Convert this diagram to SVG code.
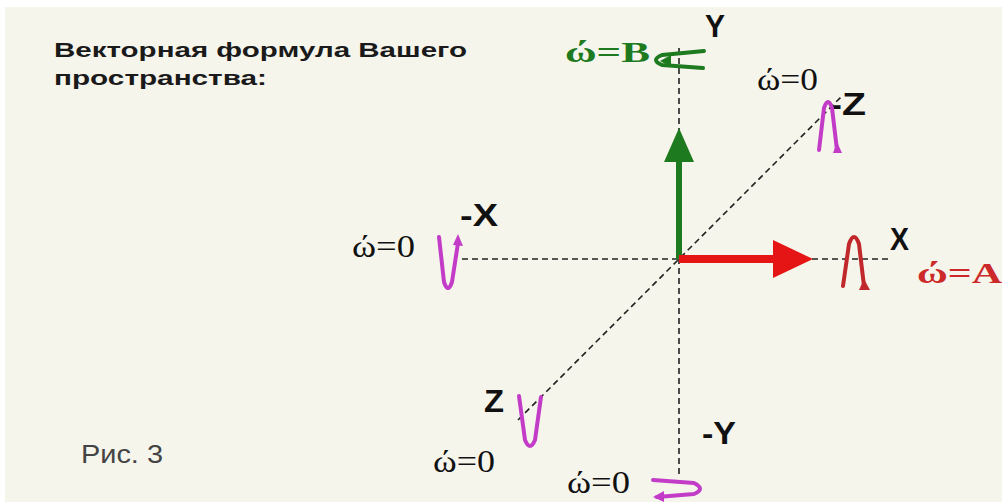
<svg xmlns="http://www.w3.org/2000/svg" width="1002" height="502" viewBox="0 0 1002 502">
<defs>
<style>
.ax{stroke:#222;stroke-width:1.6;stroke-dasharray:6 4;fill:none}
.lbl{font-family:"Liberation Sans",Arial,sans-serif;font-weight:bold;font-size:31px;fill:#111}
.om{font-family:"Liberation Serif","Times New Roman",serif;font-size:31px;fill:#111}
.omc{font-family:"Liberation Serif","Times New Roman",serif;font-size:29px;font-weight:bold}
.title{font-family:"Liberation Sans",Arial,sans-serif;font-weight:bold;font-size:21px;fill:#1a1a1a}
.rot{fill:none;stroke-width:4;stroke-linecap:round;stroke-linejoin:round}
.mag{stroke:#c23cc8}
</style>
</defs>
<rect width="1002" height="502" fill="#ffffff"/>
<rect x="5" y="7" width="997" height="495" fill="#f6f5ec"/>

<g id="connectors">
<line class="ax" x1="679" y1="48" x2="679" y2="474"/>
<line class="ax" x1="462" y1="259" x2="890" y2="259"/>
<line class="ax" x1="518" y1="420" x2="841" y2="97"/>
<path d="M676,259 V162 H664 L679,128 L694,162 H682 V259 Z" fill="#1e7a1e"/>
<path d="M679,255 H773 V240 L813,259 L773,278 V263 H679 Z" fill="#e61515"/>
</g>

<g id="title">
<text class="title" x="54" y="57" textLength="413" lengthAdjust="spacingAndGlyphs">Векторная формула Вашего</text>
<text class="title" x="54" y="85" textLength="213" lengthAdjust="spacingAndGlyphs">пространства:</text>
</g>

<g id="fig-label">
<text x="81" y="463" font-family="'Liberation Sans',Arial,sans-serif" font-size="25" fill="#444" textLength="82" lengthAdjust="spacingAndGlyphs">Рис. 3</text>
</g>

<g id="axis-Y">
<text class="lbl" x="705" y="37" textLength="20" lengthAdjust="spacingAndGlyphs">Y</text>
<text class="omc" x="565" y="62" fill="#1e7a1e" textLength="85" lengthAdjust="spacingAndGlyphs">ώ=B</text>
<path class="rot" stroke="#1e7a1e" d="M704,51 L662,55 Q650,60 662,65 L703,68"/>
<path d="M660,61 L671,55 L671,67 Z" fill="#1e7a1e"/>
</g>

<g id="axis-X">
<text class="lbl" x="890" y="250" textLength="19" lengthAdjust="spacingAndGlyphs">X</text>
<text class="omc" x="917" y="283" fill="#cc2a2a" textLength="85" lengthAdjust="spacingAndGlyphs">ώ=A</text>
<path class="rot" stroke="#c0282c" d="M843,286 L849,244 Q854,230 859,244 L864,286"/>
<path d="M859,290 L864,279 L870,290 Z" fill="#c0282c"/>
</g>

<g id="axis-negZ">
<text class="lbl" x="829" y="115" textLength="37" lengthAdjust="spacingAndGlyphs">-Z</text>
<text class="om" x="757" y="90" textLength="61" lengthAdjust="spacingAndGlyphs">ώ=0</text>
<path class="rot mag" d="M819,150 L824,108 Q828,96 832,108 L837,150"/>
<path d="M833,153 L837,142 L842,153 Z" fill="#c23cc8"/>
</g>

<g id="axis-negX">
<text class="lbl" x="460" y="226" textLength="38" lengthAdjust="spacingAndGlyphs">-X</text>
<text class="om" x="352" y="257" textLength="63" lengthAdjust="spacingAndGlyphs">ώ=0</text>
<path class="rot mag" d="M439,237 L444,282 Q448,294 452,282 L458,243"/>
<path d="M453,245 L458,234 L463,246 Z" fill="#c23cc8"/>
</g>

<g id="axis-Z">
<text class="lbl" x="484" y="412" textLength="20" lengthAdjust="spacingAndGlyphs">Z</text>
<text class="om" x="433" y="472" textLength="62" lengthAdjust="spacingAndGlyphs">ώ=0</text>
<path class="rot mag" d="M519,396 L525,440 Q530,452 535,440 L541,397"/>
</g>

<g id="axis-negY">
<text class="lbl" x="702" y="444" textLength="34" lengthAdjust="spacingAndGlyphs">-Y</text>
<text class="om" x="567" y="493" textLength="63" lengthAdjust="spacingAndGlyphs">ώ=0</text>
<path class="rot mag" d="M653,480 L694,483 Q706,489 694,494 L657,497"/>
<path d="M653,497 L664,491 L664,502 Z" fill="#c23cc8"/>
</g>
</svg>
